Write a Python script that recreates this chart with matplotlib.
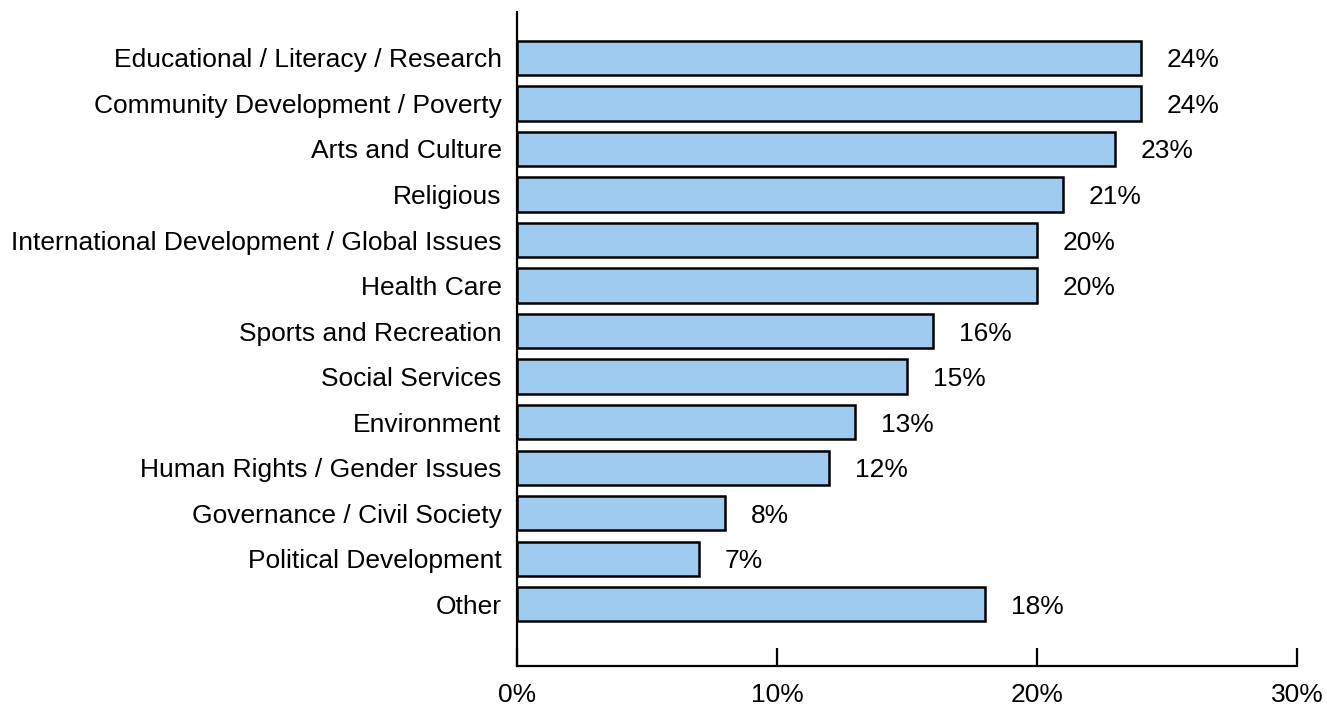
import matplotlib.pyplot as plt
import numpy as np

plt.rcParams['font.family'] = ['Liberation Sans', 'DejaVu Sans']

categories = ["Educational / Literacy / Research", "Community Development / Poverty",
              "Arts and Culture", "Religious", "International Development / Global Issues",
              "Health Care", "Sports and Recreation", "Social Services", "Environment",
              "Human Rights / Gender Issues", "Governance / Civil Society",
              "Political Development", "Other"]
values = [24, 24, 23, 21, 20, 20, 16, 15, 13, 12, 8, 7, 18]
xticks = [0, 10, 20, 30]

fig = plt.figure(figsize=(13.27, 7.05), dpi=100)
ax = fig.add_axes([517/1327, 39/705, 780/1327, 654/705])

y = np.arange(len(categories))
ax.barh(y, values, height=0.75, color="#a0cbf0", edgecolor="black", linewidth=1.8)
for yi, v in zip(y, values):
    ax.text(v + 1.0, yi, f"{v}%", va="center_baseline", ha="left", fontsize=19)

ax.set_ylim(len(categories) - 1 + 1.36, -1.01)
ax.set_xlim(0, 30)
ax.set_yticks(y)
ax.set_yticklabels(categories, fontsize=19)
ax.set_xticks(xticks)
ax.set_xticklabels([f"{t}%" for t in xticks], fontsize=19)
ax.tick_params(axis="y", length=0, pad=11)
ax.tick_params(axis="x", direction="in", length=13, width=1.6, pad=12)
for s in ["top", "right"]:
    ax.spines[s].set_visible(False)
for s in ["left", "bottom"]:
    ax.spines[s].set_linewidth(1.6)

fig.savefig("out.png", dpi=100)
